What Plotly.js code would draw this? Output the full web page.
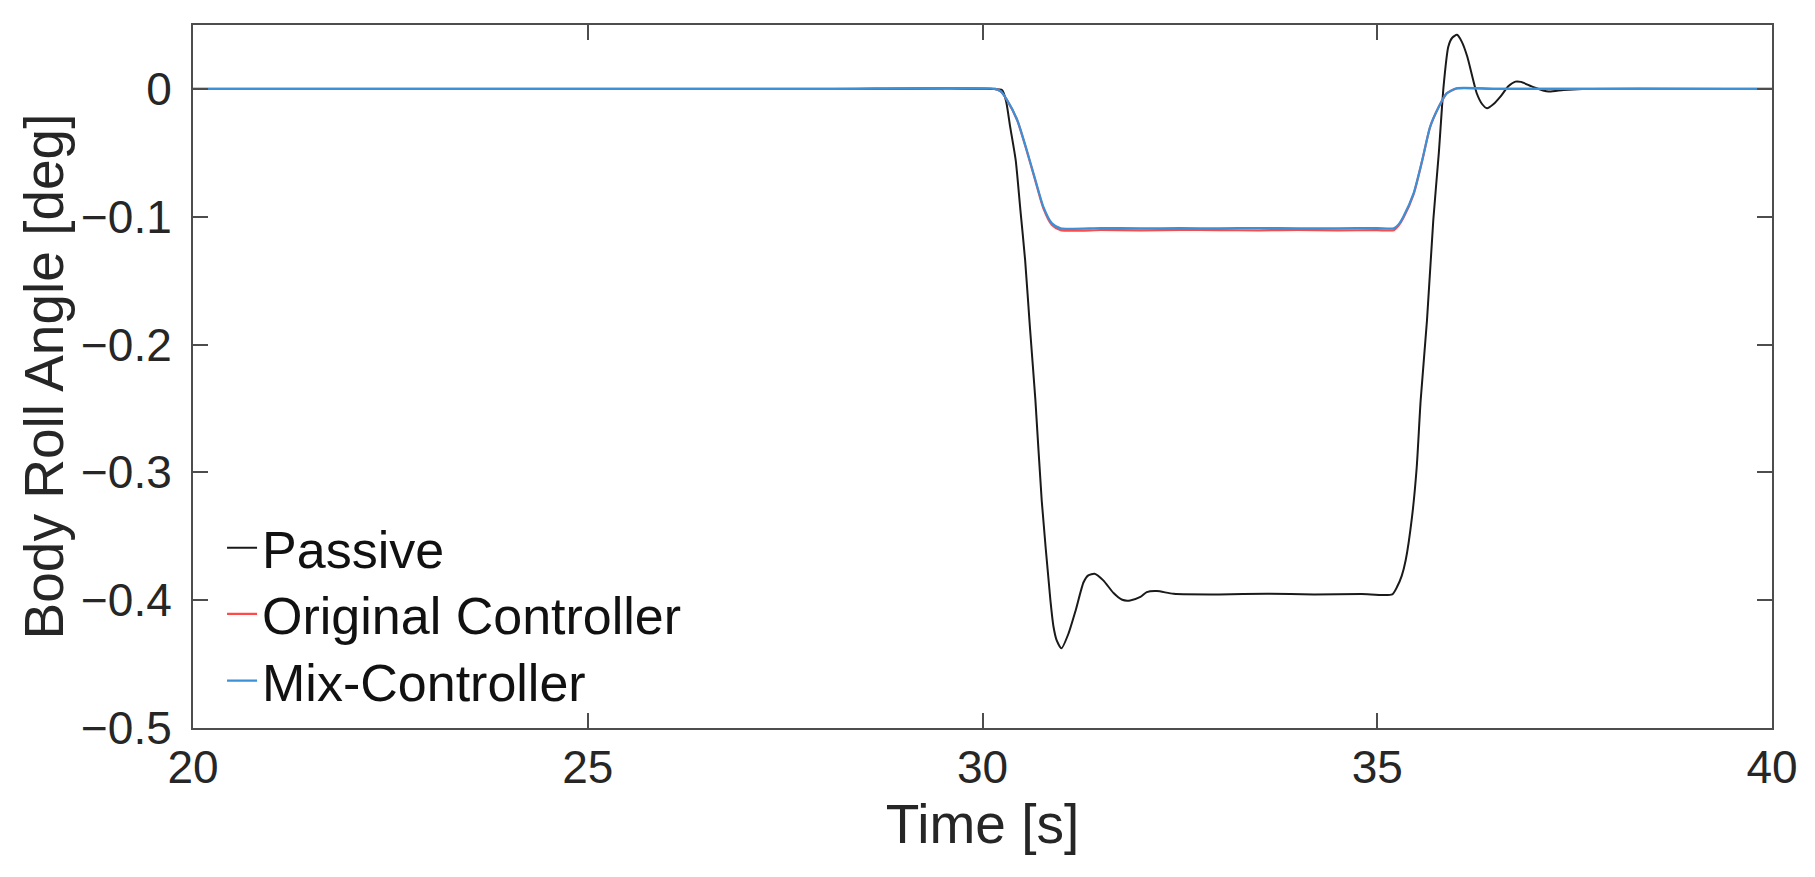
<!DOCTYPE html>
<html>
<head>
<meta charset="utf-8">
<script src="https://cdn.plot.ly/plotly-3.0.1.min.js"></script>
<style>html,body{margin:0;padding:0;background:#fff;}#chart{width:1815px;height:877px;}</style>
</head>
<body>
<div id="chart"></div>
<script>
// Passive (black)
const passiveTime = [20, 24, 28, 30.1, 30.25, 30.30, 30.35, 30.42, 30.48, 30.54, 30.60, 30.67, 30.75, 30.86, 30.90, 30.94, 31.0, 31.09, 31.18, 31.28, 31.34, 31.42, 31.53, 31.66, 31.77, 31.87, 32.0, 32.08, 32.21, 32.42, 33.0, 33.6, 34.2, 34.8, 35.19, 35.25, 35.31, 35.36, 35.44, 35.50, 35.55, 35.63, 35.71, 35.78, 35.84, 35.90, 35.95, 36.01, 36.07, 36.14, 36.26, 36.33, 36.39, 36.47, 36.56, 36.66, 36.75, 36.82, 36.98, 37.17, 37.36, 37.6, 40];
const passiveAngle = [0, 0, 0, 0, -0.001, -0.010, -0.0295, -0.0556, -0.0948, -0.134, -0.186, -0.2435, -0.322, -0.400, -0.421, -0.4315, -0.4377, -0.426, -0.408, -0.386, -0.3806, -0.3793, -0.3845, -0.3944, -0.3997, -0.4002, -0.3975, -0.3937, -0.3929, -0.395, -0.3955, -0.3950, -0.3955, -0.3952, -0.3955, -0.3897, -0.381, -0.3688, -0.335, -0.296, -0.2435, -0.181, -0.1026, -0.050, 0.002, 0.033, 0.040, 0.0423, 0.037, 0.0253, -0.0034, -0.012, -0.0151, -0.012, -0.006, 0.002, 0.0057, 0.0055, 0.0013, -0.0021, -0.0008, 0, 0];

// Original Controller (red)
const originalTime = [20, 24, 28, 30.16, 30.23, 30.31, 30.44, 30.56, 30.67, 30.77, 30.88, 30.99, 31.5, 32.0, 32.5, 33.0, 33.5, 34.0, 34.5, 35.0, 35.21, 35.27, 35.33, 35.46, 35.57, 35.67, 35.78, 35.88, 36.01, 36.5, 40];
const originalAngle = [0, 0, 0, 0, -0.002, -0.0088, -0.0246, -0.0484, -0.0720, -0.0932, -0.1065, -0.1105, -0.1104, -0.1106, -0.1103, -0.1105, -0.1106, -0.1104, -0.1106, -0.1105, -0.1105, -0.107, -0.101, -0.0825, -0.0560, -0.0298, -0.0140, -0.0035, 0.0004, 0, 0];

// Mix-Controller (blue)
const mixTime = [20, 24, 28, 30.16, 30.23, 30.31, 30.44, 30.56, 30.67, 30.77, 30.88, 30.99, 31.5, 32.0, 32.5, 33.0, 33.5, 34.0, 34.5, 35.0, 35.21, 35.27, 35.33, 35.46, 35.57, 35.67, 35.78, 35.88, 36.01, 36.5, 40];
const mixAngle = [0, 0, 0, 0, -0.002, -0.0086, -0.0243, -0.0478, -0.0713, -0.0921, -0.1052, -0.1091, -0.1088, -0.1091, -0.1089, -0.1091, -0.1088, -0.1090, -0.1091, -0.1089, -0.1091, -0.106, -0.100, -0.0817, -0.0556, -0.0295, -0.0139, -0.0034, 0.0005, 0, 0];

const seriesNames = ["Passive", "Original Controller", "Mix-Controller"];
const xTicks = [20, 25, 30, 35, 40];
const yTicks = [0, -0.1, -0.2, -0.3, -0.4, -0.5];

const FONT = '"Liberation Sans", Arial, Helvetica, sans-serif';
const TXT = '#262626';

const traces = [
  {x: passiveTime, y: passiveAngle, name: seriesNames[0], mode: 'lines', legend: 'legend',
   line: {color: '#1a1a1a', width: 2, shape: 'spline', smoothing: 0.6}},
  {x: originalTime, y: originalAngle, name: seriesNames[1], mode: 'lines', legend: 'legend2',
   line: {color: '#ff4a4a', width: 2.2, shape: 'spline', smoothing: 0.6}},
  {x: mixTime, y: mixAngle, name: seriesNames[2], mode: 'lines', legend: 'legend3',
   line: {color: '#3d8fd6', width: 2.2, shape: 'spline', smoothing: 0.6}}
];

const axisCommon = {
  showline: true, linecolor: '#4d4d4d', linewidth: 2, mirror: 'ticks',
  ticks: 'inside', ticklen: 15, tickwidth: 2, tickcolor: '#4d4d4d',
  showgrid: false, zeroline: false,
  tickfont: {family: FONT, size: 46, color: TXT}
};

function legendAt(yPaper) {
  return {
    x: 0.0184, y: yPaper, xanchor: 'left', yanchor: 'middle',
    bgcolor: 'rgba(0,0,0,0)', borderwidth: 0,
    font: {family: FONT, size: 52, color: '#111'}
  };
}

const layout = {
  width: 1815, height: 877,
  paper_bgcolor: '#ffffff', plot_bgcolor: '#ffffff',
  margin: {l: 193, r: 43, t: 25, b: 149, pad: 0},
  font: {family: FONT, color: TXT},
  xaxis: Object.assign({}, axisCommon, {
    range: [20, 40], tickvals: xTicks, ticktext: xTicks.map(String),
    ticklabelstandoff: -2,
    title: {text: 'Time [s]', font: {family: FONT, size: 55, color: TXT}, standoff: 3}
  }),
  yaxis: Object.assign({}, axisCommon, {
    range: [-0.5, 0.05], tickvals: yTicks,
    ticktext: yTicks.map(v => v === 0 ? '0' : '\u2212' + Math.abs(v).toFixed(1)),
    ticklabelstandoff: 10,
    title: {text: 'Body Roll Angle [deg]', font: {family: FONT, size: 55, color: TXT}, standoff: 0}
  }),
  showlegend: true,
  legend: legendAt(0.256),
  legend2: legendAt(0.162),
  legend3: legendAt(0.067)
};

Plotly.newPlot('chart', traces, layout, {displayModeBar: false, staticPlot: true});
</script>
</body>
</html>
